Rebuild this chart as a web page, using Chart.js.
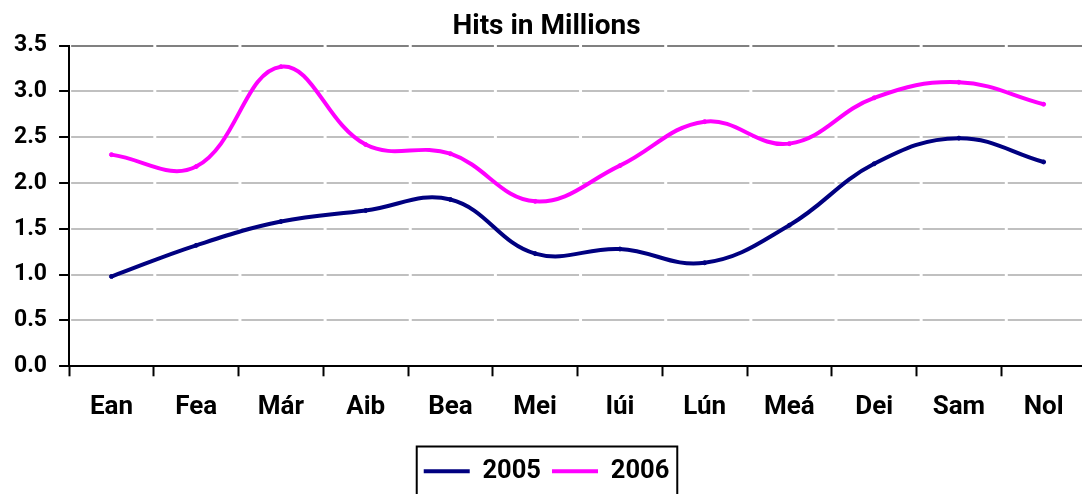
<!DOCTYPE html>
<html lang="en">
<head>
    <meta charset="UTF-8">
    <title>Hits in Millions</title>
    <script src="https://cdn.jsdelivr.net/npm/chart.js"></script>
    <style>
        html, body { margin: 0; padding: 0; overflow: hidden; background: #fff; }
        canvas { display: block; }
    </style>
</head>
<body>
    <canvas id="myChart" width="1091" height="494"></canvas>
    <script>
        const months = ['Ean', 'Fea', 'Már', 'Aib', 'Bea', 'Mei', 'Iúi', 'Lún', 'Meá', 'Dei', 'Sam', 'Nol'];
        const hits2005 = [0.98, 1.32, 1.58, 1.70, 1.82, 1.23, 1.28, 1.13, 1.54, 2.21, 2.49, 2.23];
        const hits2006 = [2.31, 2.18, 3.27, 2.42, 2.32, 1.80, 2.19, 2.67, 2.43, 2.93, 3.10, 2.86];
        const yTicks = [0, 0.5, 1, 1.5, 2, 2.5, 3, 3.5];

        const FONT = 'Roboto, "DejaVu Sans", sans-serif';

        // box round the legend, like the Excel one
        const legendBox = {
            id: 'legendBox',
            afterDraw(chart) {
                const hb = chart.legend.legendHitBoxes;
                if (!hb || !hb.length) return;
                const first = hb[0];
                const last = hb[hb.length - 1];
                const ctx = chart.ctx;
                ctx.save();
                ctx.strokeStyle = '#000';
                ctx.lineWidth = 2;
                const left = first.left - 7;
                const right = last.left + last.width + 8;
                const top = first.top - 12;
                ctx.strokeRect(left, top, right - left, 60);
                ctx.restore();
            }
        };

        const ctx = document.getElementById('myChart').getContext('2d');
        const myChart = new Chart(ctx, {
            type: 'line',
            data: {
                labels: months,
                datasets: [{
                    label: '2005',
                    data: hits2005,
                    borderColor: '#000080',
                    backgroundColor: '#000080',
                    borderWidth: 4,
                    pointRadius: 2,
                    pointBorderWidth: 1,
                    tension: 0.4
                }, {
                    label: '2006',
                    data: hits2006,
                    borderColor: '#ff00ff',
                    backgroundColor: '#ff00ff',
                    borderWidth: 4,
                    pointRadius: 2,
                    pointBorderWidth: 1,
                    tension: 0.4
                }]
            },
            options: {
                responsive: false,
                animation: false,
                layout: { padding: { left: 2, right: 0, top: 0, bottom: 0 } },
                plugins: {
                    title: {
                        display: true,
                        text: 'Hits in Millions',
                        color: '#000',
                        font: { family: FONT, size: 28, weight: 'bold' },
                        padding: { top: 10, bottom: 2 }
                    },
                    legend: {
                        position: 'bottom',
                        labels: {
                            color: '#000',
                            font: { family: FONT, size: 25.5, weight: 'bold' },
                            usePointStyle: true,
                            pointStyle: 'line',
                            pointStyleWidth: 46,
                            padding: 11,
                            generateLabels(chart) {
                                const items = Chart.defaults.plugins.legend.labels.generateLabels(chart);
                                items.forEach(it => { it.lineWidth = 4; it.pointStyle = 'line'; });
                                return items;
                            }
                        }
                    },
                    tooltip: { enabled: false }
                },
                scales: {
                    x: {
                        offset: true,
                        grid: {
                            display: true,
                            drawOnChartArea: false,
                            offset: true,
                            tickLength: 10,
                            tickColor: '#000',
                            tickWidth: 2
                        },
                        border: { color: '#000', width: 2 },
                        ticks: {
                            color: '#000',
                            padding: 16,
                            maxRotation: 0,
                            font: { family: FONT, size: 26, weight: 'bold' }
                        },
                        afterFit(scale) { scale.height += 8; }
                    },
                    y: {
                        min: 0,
                        max: 3.5,
                        afterBuildTicks(scale) {
                            scale.ticks = yTicks.map(v => ({ value: v }));
                        },
                        grid: {
                            color: c => (c.tick && c.tick.value === 3.5) ? '#808080' : '#c0c0c0',
                            lineWidth: 2,
                            tickLength: 10,
                            tickColor: '#000',
                            tickWidth: 2
                        },
                        border: { color: '#000', width: 2, dash: [82.15, 3], dashOffset: -1.15 },
                        ticks: {
                            color: '#000',
                            padding: 12,
                            font: { family: FONT, size: 23, weight: 'bold' },
                            callback: v => v.toFixed(1)
                        }
                    }
                }
            },
            plugins: [legendBox]
        });
    </script>
</body>
</html>
